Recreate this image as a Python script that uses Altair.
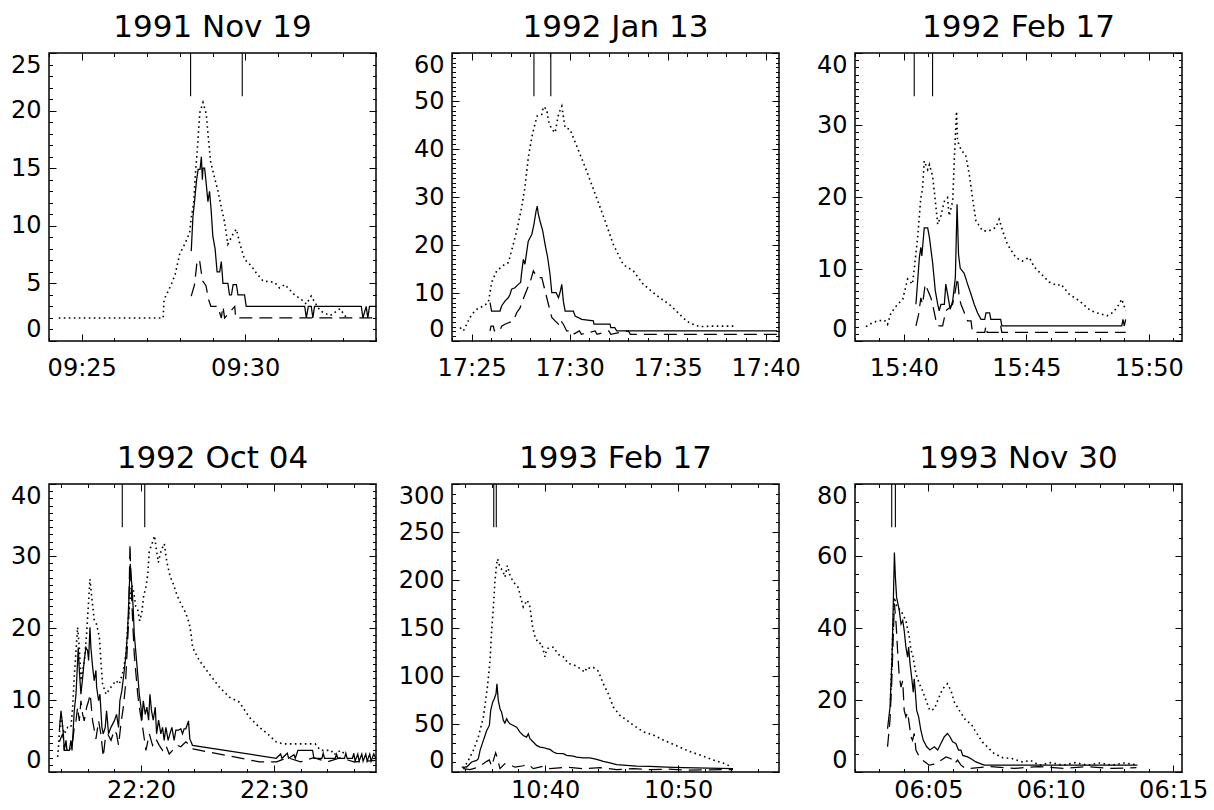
import math
import altair as alt
import pandas as pd

FONT = "DejaVu Sans"
W, H = 327, 288

# ---------------- data (time = minutes past the hour, value) ----------------
P1_DOTTED = [(24.3,2.0),(27.49,2.0),(27.52,3.6),(27.74,4.9),(27.86,5.8),(28.0,7.6),(28.15,8.4),(28.30,9.4),(28.35,10.7),(28.43,12.1),(28.47,14.2),(28.53,16.4),(28.61,19.8),(28.71,20.7),(28.81,19.7),(28.86,18.0),(28.94,15.6),(29.06,14.2),(29.17,13.0),(29.27,11.6),(29.37,10.3),(29.47,8.4),(29.63,9.3),(29.73,9.7),(29.83,8.5),(29.98,7.1),(30.19,6.5),(30.34,5.9),(30.55,5.2),(30.90,5.1),(31.05,4.6),(31.21,4.9),(31.51,4.0),(31.72,3.6),(31.87,3.2),(32.02,3.9),(32.12,3.4),(32.3,2.6),(32.6,2.2),(32.9,2.8),(33.1,2.0)]
P1_SOLID = [(28.35,7.8),(28.40,10.7),(28.45,12.1),(28.51,13.9),(28.56,14.9),(28.62,14.9),(28.66,16.0),(28.69,14.0),(28.71,15.0),(28.76,15.0),(28.81,13.6),(28.86,12.1),(28.91,13.0),(28.96,11.3),(29.01,9.1),(29.08,8.0),(29.14,6.0),(29.22,6.0),(29.27,6.9),(29.32,5.0),(29.47,5.0),(29.52,4.0),(29.58,4.0),(29.63,4.9),(29.73,4.9),(29.78,4.0),(29.98,4.0),(30.03,3.0),(31.82,3.0),(31.87,2.0),(31.93,3.0),(32.02,3.0),(32.07,2.0),(32.12,3.0),(33.55,3.0),(33.6,2.0),(33.7,3.0),(33.75,2.0),(33.8,3.0),(34.0,3.0)]
P1_DASHED = [(28.35,3.9),(28.45,4.9),(28.52,6.7),(28.60,7.1),(28.65,6.1),(28.70,5.2),(28.80,4.8),(28.88,3.6),(28.95,3.0),(29.16,3.0),(29.27,2.0),(29.32,3.0),(29.37,2.0),(29.68,3.0),(29.71,2.0),(34.0,2.0)]
P1_MARKS = [28.33, 29.91]

P2_DOTTED = [(24.41,2.8),(24.58,2.1),(24.83,4.2),(25.0,5.5),(25.26,6.6),(25.6,7.3),(25.85,8.0),(25.94,10.1),(26.02,12.2),(26.28,14.6),(26.7,16.0),(26.87,16.3),(27.04,18.8),(27.3,22.9),(27.55,27.8),(27.72,32.0),(27.89,38.2),(28.07,42.4),(28.23,45.2),(28.35,46.9),(28.58,47.2),(28.66,48.8),(28.83,48.3),(28.92,45.8),(29.09,44.1),(29.26,43.4),(29.43,47.2),(29.6,48.9),(29.77,44.4),(30.02,44.1),(30.53,38.9),(30.87,35.4),(31.38,29.8),(31.81,25.0),(32.23,20.1),(32.74,15.9),(33.25,14.6),(33.76,11.8),(34.44,9.5),(35.12,7.5),(35.8,4.8),(36.1,3.8),(36.6,3.0),(37.3,3.1),(38.5,3.1)]
P2_SOLID = [(25.94,8.0),(26.02,6.25),(26.45,6.25),(26.53,7.3),(26.7,8.3),(26.87,9.0),(26.96,9.7),(27.04,10.8),(27.21,11.1),(27.38,11.8),(27.5,12.2),(27.55,14.2),(27.64,17.0),(27.72,16.0),(27.89,20.8),(27.98,21.5),(28.07,22.2),(28.18,24.3),(28.29,27.1),(28.35,28.1),(28.4,26.5),(28.49,25.0),(28.63,22.9),(28.75,20.1),(28.88,17.4),(29.0,13.9),(29.09,10.1),(29.31,10.1),(29.43,9.0),(29.51,10.1),(29.6,11.8),(29.68,8.3),(29.77,6.25),(30.19,6.25),(30.28,5.2),(30.62,4.5),(31.21,4.2),(31.24,3.5),(32.06,3.5),(32.1,2.8),(32.3,2.8),(32.4,2.1),(40.6,2.1)]
P2_DASHED = [(25.94,2.1),(25.99,3.1),(26.11,3.1),(26.16,2.1),(26.45,2.1),(26.53,3.1),(26.7,3.5),(27.13,4.2),(27.3,5.9),(27.47,6.9),(27.72,9.7),(27.98,12.2),(28.15,14.6),(28.35,13.2),(28.58,13.2),(28.75,10.4),(28.92,7.6),(29.09,4.9),(29.26,4.2),(29.43,3.5),(29.51,4.5),(29.68,3.5),(29.85,2.1),(30.1,2.1),(30.19,1.4),(30.5,2.1),(30.6,1.4),(31.3,2.1),(31.4,1.4),(32.0,2.1),(32.1,1.4),(33.0,2.1),(33.1,1.4),(40.6,1.4)]
P2_MARKS = [28.18, 29.04]

P3_DOTTED = [(38.45,2.0),(38.72,2.55),(38.93,2.8),(39.2,2.9),(39.33,2.3),(39.47,3.9),(39.67,4.8),(39.95,5.8),(40.15,8.6),(40.35,7.9),(40.42,10.0),(40.56,14.4),(40.69,19.9),(40.76,21.1),(40.83,25.0),(40.97,23.8),(41.04,24.5),(41.17,22.9),(41.24,20.8),(41.38,16.2),(41.51,17.4),(41.65,19.4),(41.78,19.9),(41.85,17.4),(41.99,19.4),(42.06,25.5),(42.15,31.9),(42.19,27.8),(42.33,26.6),(42.53,25.7),(42.67,23.1),(42.8,19.9),(42.94,16.7),(43.21,15.3),(43.48,15.3),(43.76,15.8),(43.89,16.9),(44.03,15.3),(44.23,13.4),(44.57,11.6),(44.84,11.1),(45.12,11.6),(45.32,10.3),(45.52,9.6),(45.93,8.2),(46.27,7.7),(46.41,7.9),(46.75,6.5),(47.16,5.6),(47.63,4.2),(47.9,3.9),(48.3,3.5),(48.5,3.9),(48.7,4.6),(48.9,5.8),(49.06,4.2)]
P3_SOLID = [(40.49,5.1),(40.63,11.6),(40.69,13.0),(40.73,11.8),(40.83,15.7),(40.97,15.7),(41.04,14.4),(41.17,10.9),(41.28,7.0),(41.38,5.1),(41.44,4.2),(41.51,5.1),(41.65,5.1),(41.71,7.9),(41.81,6.0),(41.89,4.4),(41.99,5.55),(42.1,8.8),(42.17,19.0),(42.23,12.0),(42.3,10.1),(42.46,9.4),(42.6,7.9),(42.74,6.5),(42.87,5.1),(43.01,3.9),(43.15,3.0),(43.3,3.0),(43.35,3.9),(43.5,3.9),(43.55,3.0),(43.95,3.0),(44.0,2.1),(48.9,2.1),(48.95,3.0),(49.0,2.1),(49.06,3.0)]
P3_DASHED = [(40.49,2.1),(40.6,3.7),(40.69,6.0),(40.76,5.1),(40.87,7.9),(41.1,6.0),(41.17,5.1),(41.31,2.8),(41.38,2.1),(41.58,2.1),(41.71,4.2),(41.85,4.6),(41.99,5.1),(42.1,7.0),(42.19,8.8),(42.26,6.0),(42.33,5.1),(42.6,2.8),(42.74,2.8),(42.8,1.2),(43.3,1.2),(43.35,2.1),(43.4,1.2),(43.9,1.2),(43.95,2.1),(44.0,1.2),(49.06,1.2)]
P3_MARKS = [40.42, 41.17]

P4_DOTTED = [(13.73,2.1),(13.86,5.3),(13.98,8.1),(14.10,6.2),(14.23,5.3),(14.49,6.2),(14.73,6.2),(14.86,9.0),(14.99,13.6),(15.23,20.1),(15.36,17.3),(15.49,12.7),(15.74,15.5),(15.91,19.2),(16.16,26.8),(16.32,23.8),(16.49,21.0),(16.66,20.5),(16.87,18.7),(16.98,15.5),(17.11,12.2),(17.37,10.8),(17.74,11.8),(18.12,12.7),(18.37,12.2),(18.67,14.1),(18.87,16.4),(18.99,20.1),(19.17,24.0),(19.3,26.0),(19.45,25.0),(19.6,23.0),(19.75,22.5),(19.9,21.0),(20.05,22.0),(20.2,24.5),(20.35,25.5),(20.51,27.5),(20.62,30.7),(20.83,31.7),(21.01,32.8),(21.13,31.2),(21.30,29.1),(21.50,30.7),(21.75,31.7),(21.93,29.3),(22.18,27.2),(22.43,26.1),(22.68,24.7),(22.88,23.8),(23.13,22.9),(23.38,22.0),(23.63,20.6),(23.76,19.2),(23.88,17.3),(24.38,15.5),(25.14,13.6),(25.89,11.8),(26.64,10.4),(27.39,9.7),(28.15,7.6),(28.90,6.2),(29.52,5.3),(30.15,4.2),(30.65,3.9),(33.1,3.9),(33.5,3.0),(34.3,3.0),(34.5,2.4),(35.0,3.0),(35.4,2.4)]
P4_SOLID = [(13.86,5.8),(13.98,8.5),(14.06,7.2),(14.16,5.3),(14.23,3.0),(14.36,4.4),(14.43,3.0),(14.61,3.0),(14.73,4.4),(14.81,3.0),(14.91,6.2),(14.98,8.5),(15.11,10.8),(15.16,12.7),(15.28,17.3),(15.36,14.1),(15.48,10.8),(15.61,13.1),(15.73,15.5),(15.86,17.3),(15.98,16.9),(16.06,15.5),(16.16,20.1),(16.23,17.3),(16.36,14.6),(16.48,12.7),(16.61,14.1),(16.66,11.8),(16.81,9.9),(16.91,10.8),(17.06,6.2),(17.16,5.3),(17.31,6.2),(17.41,8.5),(17.56,5.3),(17.74,6.2),(17.99,7.1),(18.16,8.0),(18.31,6.2),(18.41,9.9),(18.56,11.3),(18.74,14.1),(18.87,16.4),(18.99,19.6),(19.12,25.7),(19.19,28.9),(19.32,25.7),(19.42,22.4),(19.49,19.2),(19.62,16.4),(19.75,13.6),(19.87,10.8),(20.0,9.0),(20.07,7.2),(20.17,9.9),(20.32,8.0),(20.44,9.0),(20.57,7.2),(20.67,10.8),(20.79,8.5),(20.92,7.2),(21.07,9.0),(21.17,5.3),(21.32,7.2),(21.49,5.3),(21.62,6.2),(21.74,4.4),(21.87,6.2),(22.04,4.4),(22.17,5.3),(22.32,6.2),(22.49,4.4),(22.62,5.8),(22.82,5.8),(22.99,6.0),(23.12,5.3),(23.24,6.0),(23.37,6.0),(23.57,7.1),(23.67,4.6),(23.87,3.7),(30.17,1.9),(30.5,2.5),(30.6,1.9),(31.0,2.6),(31.1,1.9),(31.5,2.4),(31.6,1.9),(31.8,3.0),(32.9,3.0),(33.0,1.9),(33.6,1.9),(33.7,2.6),(33.8,1.9),(34.6,1.9),(34.7,2.5),(34.8,1.9),(35.3,1.9),(35.4,2.6),(35.5,1.9),(35.9,1.9),(36.0,2.6),(36.1,1.5),(36.3,2.5),(36.4,1.5),(36.6,2.5),(36.7,1.5),(36.9,2.5),(37.0,1.5),(37.2,2.5),(37.3,1.5),(37.5,2.5),(37.65,1.9)]
P4_DASHED = [(13.86,4.2),(14.11,5.3),(14.23,3.0),(14.61,3.0),(14.86,4.2),(14.98,6.2),(15.11,7.1),(15.23,9.0),(15.36,7.1),(15.48,9.9),(15.61,8.0),(15.73,7.1),(15.91,9.0),(16.06,9.9),(16.18,10.8),(16.36,7.1),(16.61,4.6),(16.81,7.1),(16.98,5.3),(17.16,2.1),(17.31,4.6),(17.49,5.3),(17.74,4.4),(17.99,5.8),(18.16,5.3),(18.31,3.7),(18.49,6.7),(18.67,9.0),(18.82,11.8),(18.92,15.5),(19.07,21.0),(19.17,31.7),(19.24,26.6),(19.37,21.0),(19.49,16.4),(19.62,13.6),(19.75,10.8),(19.87,9.0),(20.12,6.2),(20.37,3.0),(20.62,5.3),(20.87,3.7),(21.12,4.6),(21.37,3.7),(21.62,3.0),(21.87,3.7),(22.12,2.5),(22.37,3.0),(22.74,3.7),(22.99,3.5),(23.37,4.2),(23.67,3.7),(23.91,3.2),(28.92,1.4),(30.2,1.4),(31.0,2.0),(32.0,1.4),(33.0,2.0),(34.0,1.4),(35.0,2.0),(36.0,1.4),(37.65,1.6)]
P4_MARKS = [18.59, 20.28]

P5_DOTTED = [(33.85,3.5),(34.23,12.1),(34.60,22.5),(34.98,36.4),(35.36,57.2),(35.66,88.4),(35.86,116),(35.98,147),(36.11,171),(36.23,199),(36.36,217),(36.43,222),(36.61,213),(36.81,210),(36.98,203),(37.16,215),(37.36,205),(37.61,198),(37.99,192),(38.16,182),(38.36,172),(38.66,179),(38.86,172),(39.06,151),(39.24,141),(39.49,134),(39.74,134),(39.99,120),(40.12,128),(40.37,130),(40.62,130),(40.87,125),(41.12,121),(41.37,120),(41.75,113),(42.12,112),(42.50,109),(43.0,104),(43.13,109),(43.38,108),(43.63,109),(44.0,105),(44.38,92),(44.75,81.5),(45.13,67.7),(45.63,59),(46.13,54),(46.63,48.8),(47.39,41.9),(48.14,38.5),(48.89,33.3),(49.89,27.3),(50.74,22.0),(51.8,17.0),(52.75,12.0),(53.5,8.7),(54.0,5.5)]
P5_SOLID = [(33.73,5.2),(34.10,5.2),(34.48,10.4),(34.85,12.1),(34.98,13.9),(35.11,22.5),(35.36,32.9),(35.61,43.3),(35.81,48.5),(35.91,64.1),(36.06,72.8),(36.18,76.3),(36.31,81.5),(36.38,91.9),(36.48,74.6),(36.61,65.9),(36.73,62.4),(36.86,53.7),(36.98,51.0),(37.11,55.4),(37.24,52.0),(37.36,50.2),(37.61,48.5),(37.86,46.7),(38.11,41.5),(38.36,38.0),(38.61,36.3),(38.74,39.8),(38.86,34.6),(39.11,31.2),(39.36,27.7),(39.61,26.0),(39.87,25.5),(40.12,24.3),(40.37,23.5),(40.62,20.8),(40.87,19.5),(41.37,19.1),(41.62,17.3),(42.12,16.5),(42.37,15.6),(42.87,14.6),(43.38,14.6),(43.88,13.2),(44.38,11.1),(44.88,9.4),(45.38,7.6),(46.13,6.9),(46.88,6.2),(47.89,5.9),(49.14,5.2),(50.39,4.5),(54.13,3.5)]
P5_DASHED = [(33.85,3.5),(34.35,2.5),(34.85,4.5),(35.23,7.6),(35.61,11.1),(35.81,12.5),(35.98,6.0),(36.28,19.9),(36.41,14.6),(36.61,3.5),(36.98,8.7),(37.36,7.6),(37.74,5.0),(38.36,6.5),(38.74,8.0),(39.11,3.5),(39.87,6.0),(40.37,3.5),(41.62,5.0),(42.87,3.5),(44.13,4.5),(45.38,2.5),(46.63,3.5),(47.89,2.5),(49.14,3.0),(50.39,2.0),(54.13,2.5)]
P5_MARKS = [36.14, 36.33]

P6_DOTTED = [(3.45,20.0),(3.55,40.0),(3.61,48.5),(3.7,46.0),(3.88,44.8),(4.01,43.0),(4.08,42.1),(4.22,37.4),(4.29,33.7),(4.35,32.8),(4.42,30.0),(4.49,27.3),(4.56,25.9),(4.63,24.5),(4.76,22.6),(4.90,19.9),(5.06,17.1),(5.24,17.5),(5.38,19.9),(5.58,23.1),(5.78,24.5),(5.92,22.6),(6.06,19.4),(6.26,17.1),(6.53,14.3),(6.74,13.4),(6.94,11.1),(7.21,8.3),(7.48,6.5),(7.69,5.1),(8.03,4.0),(8.44,3.7),(8.84,2.8),(9.18,3.2),(9.52,1.9),(10.0,2.6),(10.5,1.9),(11.0,2.6),(11.5,1.9),(12.0,2.5),(12.5,1.9),(13.0,2.5),(13.5,2.0)]
P6_SOLID = [(3.33,12.0),(3.43,18.0),(3.51,31.0),(3.57,48.5),(3.61,61.0),(3.65,54.1),(3.70,48.5),(3.81,44.8),(3.88,41.1),(3.95,42.1),(4.01,39.3),(4.08,34.7),(4.15,31.9),(4.19,34.7),(4.25,30.0),(4.33,25.4),(4.38,22.2),(4.42,25.9),(4.46,22.7),(4.52,17.1),(4.60,15.3),(4.69,11.6),(4.79,8.8),(4.93,7.0),(5.06,6.1),(5.24,7.0),(5.38,6.1),(5.51,7.9),(5.65,9.8),(5.78,10.7),(5.88,9.8),(5.99,8.4),(6.12,7.9),(6.23,6.1),(6.33,6.1),(6.40,4.6),(6.60,4.2),(6.74,3.7),(6.94,2.8),(7.28,1.9),(13.54,1.9)]
P6_DASHED = [(3.33,7.0),(3.43,14.4),(3.51,26.4),(3.57,39.3),(3.61,46.7),(3.68,41.1),(3.74,33.7),(3.81,26.4),(3.88,23.6),(3.95,25.4),(4.01,17.1),(4.08,15.3),(4.15,16.6),(4.29,9.7),(4.35,8.8),(4.42,10.7),(4.49,6.1),(4.63,4.2),(4.76,3.3),(5.03,1.9),(5.31,2.3),(5.72,4.2),(5.92,3.7),(6.06,2.3),(6.19,3.3),(6.33,1.9),(6.53,0.9),(7.5,1.5),(8.5,1.0),(9.5,1.5),(10.5,1.0),(11.5,1.5),(12.5,1.0),(13.5,1.2)]
P6_MARKS = [3.50, 3.65]

TITLES = ["1991 Nov 19", "1992 Jan 13", "1992 Feb 17", "1992 Oct 04", "1993 Feb 17", "1993 Nov 30"]
HOURS = [9, 17, 15, 22, 10, 6]
X_RANGE = [(24.0, 34.0), (24.0, 40.68), (38.0, 51.36), (13.08, 37.67), (33.0, 57.59), (2.0, 15.36)]
X_MINOR = [1, 1, 1, 2, 2, 1]
X_MAJOR = [5, 5, 5, 10, 10, 5]
Y_MAX = [25, 60, 40, 40, 300, 80]
Y_MINOR = [1, 1, 1, 1, 10, 5]
Y_MAJOR = [5, 10, 10, 10, 50, 20]
SERIES = [
    (P1_DOTTED, P1_SOLID, P1_DASHED, P1_MARKS),
    (P2_DOTTED, P2_SOLID, P2_DASHED, P2_MARKS),
    (P3_DOTTED, P3_SOLID, P3_DASHED, P3_MARKS),
    (P4_DOTTED, P4_SOLID, P4_DASHED, P4_MARKS),
    (P5_DOTTED, P5_SOLID, P5_DASHED, P5_MARKS),
    (P6_DOTTED, P6_SOLID, P6_DASHED, P6_MARKS),
]

MAJ_T, MIN_T = 7, 3.5


def build_panel(i):
    base = HOURS[i] * 60
    x0, x1 = base + X_RANGE[i][0], base + X_RANGE[i][1]
    xs = X_MINOR[i]
    xvals = list(range(int(math.ceil(x0 / xs) * xs), int(math.floor(x1)) + 1, xs))
    ymax = Y_MAX[i]
    yvals = list(range(0, ymax + 1, Y_MINOR[i]))
    xmaj, ymaj = X_MAJOR[i], Y_MAJOR[i]
    xpad = 15 if i < 3 else 6

    xmajor_test = f"datum.value % {xmaj} === 0"
    ymajor_test = f"datum.value % {ymaj} === 0"

    xaxis = alt.Axis(
        values=xvals, title=None, domain=False, ticks=True, tickSize=0, tickOpacity=0,
        grid=True, gridColor="black", gridOpacity=1, gridWidth=1,
        gridDash={"condition": {"test": xmajor_test,
                                "value": [MAJ_T, H - 2 * MAJ_T, MAJ_T]},
                  "value": [MIN_T, H - 2 * MIN_T, MIN_T]},
        labelExpr=(f"{xmajor_test} ? format(floor(datum.value / 60), '02d') + ':' + "
                   "format(datum.value % 60, '02d') : ''"),
        labelFontSize=24,
        labelFont=FONT, labelColor="black", labelPadding=xpad,
        labelFlush=False, labelOverlap=False, labelBound=False,
    )
    yaxis = alt.Axis(
        values=yvals, title=None, domain=False, ticks=True, tickSize=0, tickOpacity=0,
        format="d",
        grid=True, gridColor="black", gridOpacity=1, gridWidth=1,
        gridDash={"condition": {"test": ymajor_test,
                                "value": [MAJ_T, W - 2 * MAJ_T, MAJ_T]},
                  "value": [MIN_T, W - 2 * MIN_T, MIN_T]},
        labelExpr=f"{ymajor_test} ? datum.label : ''",
        labelFontSize={"condition": {"test": ymajor_test, "value": 24}, "value": 0},
        labelFont=FONT, labelColor="black", labelPadding=8,
        labelFlush=True, labelOverlap=False,
    )
    xscale = alt.Scale(domain=[x0, x1], nice=False, zero=False)
    yscale = alt.Scale(domain=[0, ymax], nice=False, zero=False)

    def frame(pairs):
        return pd.DataFrame({"t": [base + a for a, _ in pairs], "v": [b for _, b in pairs]})

    dotted, solid, dashed, marks = SERIES[i]

    def line(pairs, dash=None, width=1.25):
        kw = dict(color="black", strokeWidth=width, clip=True)
        if dash is not None:
            kw["strokeDash"] = dash
        return alt.Chart(frame(pairs)).mark_line(**kw).encode(
            x=alt.X("t:Q", scale=xscale, axis=xaxis),
            y=alt.Y("v:Q", scale=yscale, axis=yaxis),
        )

    mdf = pd.DataFrame({"t": [base + m for m in marks],
                        "top": [ymax] * len(marks),
                        "bot": [ymax * 0.85] * len(marks)})
    rules = alt.Chart(mdf).mark_rule(color="black", strokeWidth=1.1).encode(
        x=alt.X("t:Q", scale=xscale, axis=xaxis),
        y=alt.Y("top:Q", scale=yscale, axis=yaxis),
        y2="bot:Q",
    )

    return alt.layer(
        line(dotted, [1.6, 3.4], 1.6),
        line(dashed, [13, 7]),
        line(solid),
        rules,
    ).properties(
        width=W, height=H,
        title=alt.TitleParams(TITLES[i], font=FONT, fontSize=31, fontWeight="normal",
                              color="black", offset=8, anchor="middle"),
    )


chart = alt.concat(
    *[build_panel(i) for i in range(6)],
    columns=3,
    spacing={"row": 143, "column": 76},
    bounds="flush",
).properties(
    padding={"left": 9, "top": 11, "right": 5, "bottom": 0},
    background="white",
).configure_view(stroke="black", strokeWidth=1.5)

chart.save("out.html", embed_options={"renderer": "svg", "actions": False})
